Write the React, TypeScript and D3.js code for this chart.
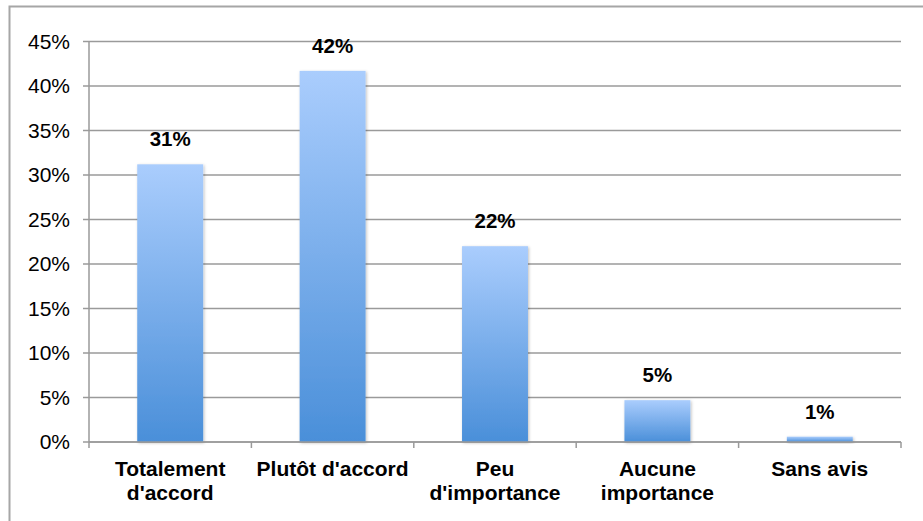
import React from 'react';
import * as d3 from 'd3';

const categories = [
  ['Totalement', "d'accord"],
  ["Plutôt d'accord"],
  ['Peu', "d'importance"],
  ['Aucune', 'importance'],
  ['Sans avis'],
];
const values = [31.2, 41.7, 22.0, 4.7, 0.6];
const valueLabels = ['31%', '42%', '22%', '5%', '1%'];
const yTicks = [0, 5, 10, 15, 20, 25, 30, 35, 40, 45];

export default function App() {
  const W = 923;
  const H = 521;
  const margin = { top: 41.5, right: 22, bottom: 79, left: 89 };
  const innerW = W - margin.left - margin.right;
  const innerH = H - margin.top - margin.bottom;

  const x = d3.scaleBand<number>()
    .domain(d3.range(categories.length))
    .range([0, innerW])
    .paddingInner(0.594)
    .paddingOuter(0.297);

  const y = d3.scaleLinear().domain([0, 45]).range([innerH, 0]);
  const step = innerW / categories.length;
  const font = 'Liberation Sans, Arial, sans-serif';

  return (
    <svg width={W} height={H} style={{ position: 'absolute', left: 0, top: 0 }}>
      <defs>
        <linearGradient id="barGrad" x1="0" y1="0" x2="0" y2="1">
          <stop offset="0%" stopColor="#aacdfd" />
          <stop offset="100%" stopColor="#4a8fd9" />
        </linearGradient>
        <filter id="shadow" x="-20%" y="-20%" width="140%" height="140%">
          <feDropShadow dx="1" dy="1" stdDeviation="1.5" floodColor="#000" floodOpacity="0.25" />
        </filter>
      </defs>
      <rect x={9.5} y={6.5} width={W + 20} height={H + 20} fill="#fff" stroke="#a6a6a6" strokeWidth={2} />
      <g transform={`translate(${margin.left},${margin.top})`}>
        {yTicks.map(t => (
          <g key={t} transform={`translate(0,${y(t)})`}>
            <line x1={-6} x2={innerW} stroke="#9a9a9a" strokeWidth={1.5} />
            <text x={-19} dy="0.35em" textAnchor="end" fontFamily={font} fontSize={21} fill="#000">{t}%</text>
          </g>
        ))}
        <line x1={0} x2={0} y1={0} y2={innerH} stroke="#9a9a9a" strokeWidth={1.5} />
        {d3.range(categories.length + 1).map(i => (
          <line key={i} x1={i * step} x2={i * step} y1={innerH} y2={innerH + 6} stroke="#9a9a9a" strokeWidth={1.5} />
        ))}
        {values.map((v, i) => (
          <g key={i}>
            <rect
              x={x(i)}
              y={y(v)}
              width={x.bandwidth()}
              height={innerH - y(v)}
              fill="url(#barGrad)"
              filter="url(#shadow)"
            />
            <text
              x={(x(i) ?? 0) + x.bandwidth() / 2}
              y={y(v) - 18}
              textAnchor="middle"
              fontFamily={font}
              fontSize={20.5}
              fontWeight="bold"
              fill="#000"
            >
              {valueLabels[i]}
            </text>
          </g>
        ))}
        <line x1={0} x2={innerW} y1={innerH} y2={innerH} stroke="#9a9a9a" strokeWidth={1.5} />
        {categories.map((lines, i) => (
          <text
            key={i}
            x={(x(i) ?? 0) + x.bandwidth() / 2}
            y={innerH + 34}
            textAnchor="middle"
            fontFamily={font}
            fontSize={21}
            fontWeight="bold"
            fill="#000"
          >
            {lines.map((l, j) => (
              <tspan key={j} x={(x(i) ?? 0) + x.bandwidth() / 2} dy={j === 0 ? 0 : 24}>{l}</tspan>
            ))}
          </text>
        ))}
      </g>
    </svg>
  );
}
